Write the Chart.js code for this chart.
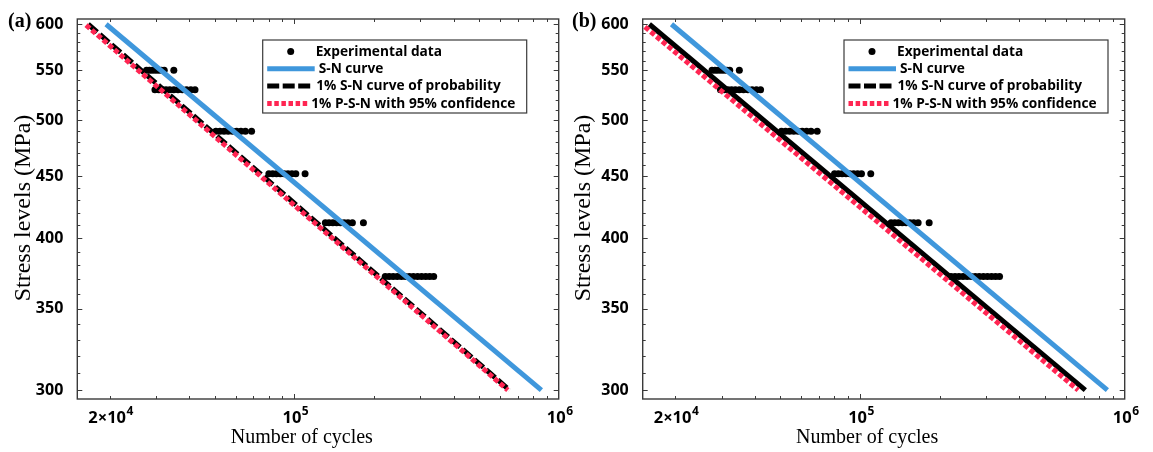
<!DOCTYPE html>
<html lang="en">
<head>
<meta charset="utf-8">
<title>S-N curves</title>
<script src="https://cdn.jsdelivr.net/npm/chart.js@4.4.1/dist/chart.umd.min.js"></script>
<style>
    body { margin: 0; background: #fff; width: 1153px; height: 452px; overflow: hidden; }
    .panel { position: absolute; top: 0; height: 452px; }
    #panel-a { left: 0; width: 580px; }
    #panel-b { left: 560px; width: 593px; }
</style>
</head>
<body>
<div class="panel" id="panel-a"><canvas id="chart-a"></canvas></div>
<div class="panel" id="panel-b"><canvas id="chart-b"></canvas></div>
<script>
// fatigue tests: cycles to failure at each stress level (MPa)
const stressLevels = [550, 530, 490, 452, 412, 372];
const lifeAt550 = [27600, 28300, 29000, 29800, 30600, 31400, 32200, 35000];
const lifeAt530 = [29700, 30700, 31700, 32700, 33800, 35000, 36300, 37700, 39100, 40600, 42100];
const lifeAt490 = [50500, 52300, 54200, 56200, 58300, 60500, 62800, 65300, 68900];
const lifeAt452 = [80100, 82800, 85600, 88500, 91500, 94600, 97900, 101300, 109800];
const lifeAt412 = [131000, 135300, 139800, 144500, 149400, 154400, 159600, 165800, 182500];
const lifeAt372 = [220700, 228500, 236500, 245000, 254000, 263000, 272500, 282000, 292500, 303000, 314000, 325000, 336600];
const lifeByLevel = [lifeAt550, lifeAt530, lifeAt490, lifeAt452, lifeAt412, lifeAt372];

// median S-N curve (same in both panels)
const snCycles = [19400, 860000];
const snStress = [600, 300];

// panel (a) 1% curves
const sn1CyclesA = [16600, 652000];
const sn1StressA = [600, 300];
const psnCyclesA = [16300, 642000];
const psnStressA = [599, 300];

// panel (b) 1% curves
const sn1CyclesB = [16000, 710000];
const sn1StressB = [600, 300];
const psnCyclesB = [15400, 667000];
const psnStressB = [597, 300];

// axes
const xRange = [15100, 1000000];
const yRange = [295, 606];
const xTickValues = [20000, 100000, 1000000];
const xTickBases = ["2×10", "10", "10"];
const xTickExps = ["4", "5", "6"];
const yTickValues = [300, 350, 400, 450, 500, 550, 600];
const xMinorTicks = [20000, 30000, 40000, 50000, 60000, 70000, 80000, 90000,
    100000, 200000, 300000, 400000, 500000, 600000, 700000, 800000, 900000];
const xMajorTicks = [100000];

const seriesNames = ["Experimental data", "S-N curve", "1% S-N curve of probability", "1% P-S-N with 95% confidence"];
const blue = "#3f97dc";
const red = "#ff2552";
const axisColor = "#3a3a3a";
const labelFamily = '"Open Sans"';

function toPoints(xs, ys) {
    return xs.map(function (x, i) { return { x: x, y: ys[i] }; });
}

function experimentPoints() {
    var pts = [];
    stressLevels.forEach(function (s, i) {
        lifeByLevel[i].forEach(function (n) { pts.push({ x: n, y: s }); });
    });
    return pts;
}

// frame with inward ticks on all four sides, x labels with exponents,
// axis titles and panel letter
const axesFrame = {
    id: "axesFrame",
    afterDraw(chart, args, opts) {
        const { ctx, chartArea: a } = chart;
        const x = chart.scales.x, y = chart.scales.y;
        ctx.save();
        ctx.strokeStyle = axisColor;
        ctx.lineWidth = 1;
        ctx.beginPath();
        xMinorTicks.forEach(function (v) {
            const px = Math.round(x.getPixelForValue(v)) + 0.5;
            const len = xMajorTicks.includes(v) ? 5 : 3;
            ctx.moveTo(px, a.bottom); ctx.lineTo(px, a.bottom - len);
            ctx.moveTo(px, a.top); ctx.lineTo(px, a.top + len);
        });
        for (let v = 300; v <= 600; v += 10) {
            const py = Math.round(y.getPixelForValue(v)) + 0.5;
            const len = v % 50 === 0 ? 5 : 3;
            ctx.moveTo(a.left, py); ctx.lineTo(a.left + len, py);
            ctx.moveTo(a.right, py); ctx.lineTo(a.right - len, py);
        }
        ctx.stroke();
        ctx.lineWidth = 1.4;
        ctx.strokeRect(a.left, a.top, a.right - a.left, a.bottom - a.top);

        // x tick labels: base plus raised exponent
        ctx.fillStyle = "#000";
        ctx.textBaseline = "alphabetic";
        ctx.textAlign = "left";
        const baseFont = "bold 16.5px " + labelFamily, expFont = "bold 12px " + labelFamily;
        xTickValues.forEach(function (v, i) {
            ctx.font = baseFont;
            const wb = ctx.measureText(xTickBases[i]).width;
            ctx.font = expFont;
            const we = ctx.measureText(xTickExps[i]).width;
            const left = x.getPixelForValue(v) - (wb + we) / 2 + 1;
            ctx.font = baseFont;
            ctx.fillText(xTickBases[i], left, 422.5);
            ctx.font = expFont;
            ctx.fillText(xTickExps[i], left + wb + 0.5, 415);
        });

        ctx.font = '20px "Liberation Serif"';
        ctx.textAlign = "center";
        ctx.fillText("Number of cycles", a.left + 224.5, 443);
        ctx.save();
        ctx.translate(30, 208);
        ctx.rotate(-Math.PI / 2);
        ctx.font = '24px "Liberation Serif"';
        ctx.fillText("Stress levels (MPa)", 0, 0);
        ctx.restore();
        ctx.font = 'bold 20px "Liberation Serif"';
        ctx.textAlign = "left";
        ctx.fillText(opts.letter, opts.letterX, 27);
        ctx.restore();
    }
};

// boxed legend inside the plot
const boxLegend = {
    id: "boxLegend",
    afterDraw(chart, args, opts) {
        const { ctx, chartArea: a } = chart;
        const x0 = a.left + opts.offsetX, y0 = a.top + 21;
        const w = 264, h = 73;
        const textX = [53, 56, 53.5, 48.5];
        ctx.save();
        ctx.fillStyle = "#fff";
        ctx.fillRect(x0, y0, w, h);
        ctx.strokeStyle = axisColor;
        ctx.lineWidth = 1.2;
        ctx.strokeRect(x0, y0, w, h);
        ctx.font = "bold 13.7px " + labelFamily;
        ctx.textBaseline = "middle";
        ctx.textAlign = "left";
        chart.data.datasets.forEach(function (ds, i) {
            const cy = y0 + 11.5 + i * 17.3;
            if (ds.showLine) {
                ctx.beginPath();
                ctx.strokeStyle = ds.borderColor;
                ctx.lineWidth = 5;
                ctx.lineCap = "butt";
                ctx.setLineDash(ds.legendDash || []);
                ctx.moveTo(x0 + 4.5, cy);
                ctx.lineTo(x0 + textX[i] - 4, cy);
                ctx.stroke();
                ctx.setLineDash([]);
            } else {
                ctx.beginPath();
                ctx.fillStyle = "#000";
                ctx.arc(x0 + 28, cy, 3.5, 0, Math.PI * 2);
                ctx.fill();
            }
            ctx.fillStyle = "#000";
            ctx.fillText(ds.label, x0 + textX[i], cy + 0.5);
        });
        ctx.restore();
    }
};

function makePanel(canvasId, cfg) {
    const tickFont = { family: labelFamily, weight: "bold", size: 16 };
    return new Chart(document.getElementById(canvasId), {
        type: "scatter",
        data: {
            datasets: [
                {
                    label: seriesNames[0],
                    data: experimentPoints(),
                    backgroundColor: "#000",
                    borderWidth: 0,
                    pointRadius: 3.5,
                    order: 4,
                },
                {
                    label: seriesNames[1],
                    data: toPoints(snCycles, snStress),
                    showLine: true,
                    borderColor: blue,
                    borderWidth: 5,
                    pointRadius: 0,
                    borderCapStyle: "butt",
                    order: 1,
                },
                {
                    label: seriesNames[2],
                    data: toPoints(cfg.sn1Cycles, cfg.sn1Stress),
                    showLine: true,
                    borderColor: "#000",
                    borderWidth: 5,
                    borderDash: cfg.sn1Dash,
                    legendDash: [12, 3.5],
                    pointRadius: 0,
                    borderCapStyle: "butt",
                    order: 3,
                },
                {
                    label: seriesNames[3],
                    data: toPoints(cfg.psnCycles, cfg.psnStress),
                    showLine: true,
                    borderColor: red,
                    borderWidth: 5,
                    borderDash: [5, 2.5],
                    legendDash: [4.5, 2.6],
                    pointRadius: 0,
                    borderCapStyle: "butt",
                    order: 2,
                },
            ],
        },
        options: {
            responsive: true,
            maintainAspectRatio: false,
            animation: false,
            events: [],
            layout: { padding: { top: 19, right: cfg.padRight, bottom: 0, left: 0 } },
            scales: {
                x: {
                    type: "logarithmic",
                    min: xRange[0],
                    max: xRange[1],
                    grid: { display: false },
                    border: { display: false },
                    ticks: { display: false },
                    afterBuildTicks: function (s) {
                        s.ticks = xTickValues.map(function (v) { return { value: v }; });
                    },
                    afterFit: function (s) { s.height = 53; },
                },
                y: {
                    type: "logarithmic",
                    min: yRange[0],
                    max: yRange[1],
                    grid: { display: false },
                    border: { display: false },
                    ticks: {
                        font: tickFont,
                        color: "#000",
                        padding: 6,
                        autoSkip: false,
                        callback: function (v) { return String(v); },
                    },
                    afterBuildTicks: function (s) {
                        s.ticks = yTickValues.map(function (v) { return { value: v }; });
                    },
                    afterFit: function (s) { s.width = cfg.axisLeft; },
                },
            },
            plugins: {
                legend: { display: false },
                tooltip: { enabled: false },
                axesFrame: { letter: cfg.letter, letterX: cfg.letterX },
                boxLegend: { offsetX: cfg.legendX },
            },
        },
        plugins: [axesFrame, boxLegend],
    });
}

makePanel("chart-a", {
    letter: "(a)", letterX: 8, axisLeft: 77.3, padRight: 21.3, legendX: 185.4,
    sn1Cycles: sn1CyclesA, sn1Stress: sn1StressA, sn1Dash: [12, 3.5],
    psnCycles: psnCyclesA, psnStress: psnStressA,
});
makePanel("chart-b", {
    letter: "(b)", letterX: 12, axisLeft: 82.7, padRight: 28.3, legendX: 201.3,
    sn1Cycles: sn1CyclesB, sn1Stress: sn1StressB, sn1Dash: [],
    psnCycles: psnCyclesB, psnStress: psnStressB,
});
</script>
</body>
</html>
